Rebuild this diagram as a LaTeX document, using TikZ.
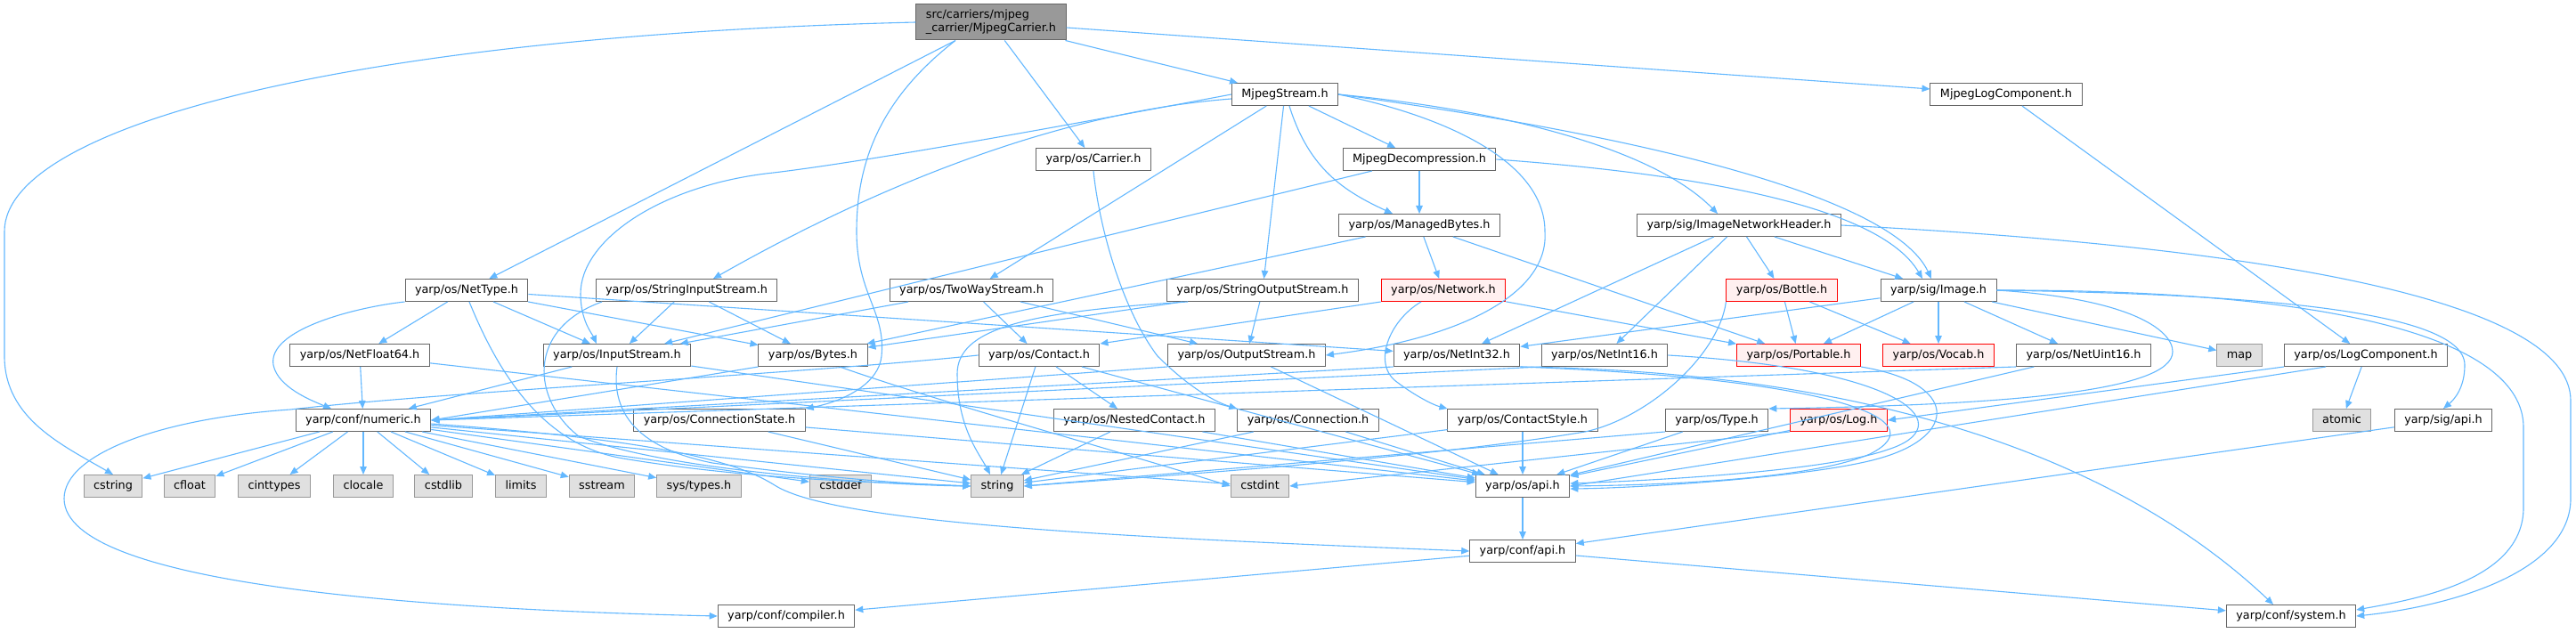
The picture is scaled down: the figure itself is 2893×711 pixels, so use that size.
\documentclass[tikz,border=0pt]{standalone}
\usepackage{fontspec}
\setmainfont{DejaVu Sans}
\usetikzlibrary{arrows.meta}
\definecolor{edgeblue}{HTML}{63B8FF}
\definecolor{boxgray}{HTML}{666666}
\definecolor{sysfill}{HTML}{E0E0E0}
\definecolor{sysline}{HTML}{999999}
\definecolor{rootfill}{HTML}{999999}
\definecolor{redfill}{HTML}{FFF0F0}
\definecolor{redline}{HTML}{FF0000}
\begin{document}
\begin{tikzpicture}[x=1pt,y=-1pt,
  boxbase/.style={draw=boxgray,fill=white,line width=1pt,inner xsep=11pt,font=\fontsize{12.8}{15}\selectfont},
  hfile/.style={boxbase,minimum height=25pt,inner ysep=0pt,text height=9.7pt,text depth=3pt},
  sys/.style={hfile,draw=sysline,fill=sysfill},
  trunc/.style={hfile,draw=redline,fill=redfill},
  rootbox/.style={boxbase,fill=rootfill,align=left,minimum height=40pt},
  incl/.style={draw=edgeblue,line width=1.1pt,-{Triangle[length=9pt,width=7.5pt]}},
]
\path[use as bounding box,fill=white] (0,0) rectangle (2893,711);

\node[rootbox] (root) at (1113,25) {src/carriers/mjpeg\\\_carrier/MjpegCarrier.h};
\node[hfile] (mstream) at (1443,106) {MjpegStream.h};
\node[hfile] (mlog) at (2253,106) {MjpegLogComponent.h};
\node[hfile] (carrier) at (1228,179) {yarp/os/Carrier.h};
\node[hfile] (mdecomp) at (1594,179) {MjpegDecompression.h};
\node[hfile] (mbytes) at (1594,253) {yarp/os/ManagedBytes.h};
\node[hfile] (inh) at (1953,253) {yarp/sig/ImageNetworkHeader.h};
\node[hfile] (nettype) at (524,326) {yarp/os/NetType.h};
\node[hfile] (sistream) at (771,326) {yarp/os/StringInputStream.h};
\node[hfile] (twoway) at (1091,326) {yarp/os/TwoWayStream.h};
\node[hfile] (sostream) at (1418,326) {yarp/os/StringOutputStream.h};
\node[trunc] (network) at (1621,326) {yarp/os/Network.h};
\node[trunc] (bottle) at (2001,326) {yarp/os/Bottle.h};
\node[hfile] (image) at (2177,326) {yarp/sig/Image.h};
\node[hfile] (netfloat) at (404,399) {yarp/os/NetFloat64.h};
\node[hfile] (istream) at (693,399) {yarp/os/InputStream.h};
\node[hfile] (bytes) at (913,399) {yarp/os/Bytes.h};
\node[hfile] (contact) at (1167,399) {yarp/os/Contact.h};
\node[hfile] (ostream) at (1400,399) {yarp/os/OutputStream.h};
\node[hfile] (netint32) at (1636,399) {yarp/os/NetInt32.h};
\node[hfile] (netint16) at (1802,399) {yarp/os/NetInt16.h};
\node[trunc] (portable) at (2020,399) {yarp/os/Portable.h};
\node[trunc] (vocab) at (2177,399) {yarp/os/Vocab.h};
\node[hfile] (netuint16) at (2340,399) {yarp/os/NetUint16.h};
\node[sys] (map) at (2515,399) {map};
\node[hfile] (logcomp) at (2657,399) {yarp/os/LogComponent.h};
\node[hfile] (numeric) at (408,472) {yarp/conf/numeric.h};
\node[hfile] (connstate) at (808,472) {yarp/os/ConnectionState.h};
\node[hfile] (nested) at (1274,472) {yarp/os/NestedContact.h};
\node[hfile] (connection) at (1469,472) {yarp/os/Connection.h};
\node[hfile] (cstyle) at (1710,472) {yarp/os/ContactStyle.h};
\node[hfile] (type) at (1928,472) {yarp/os/Type.h};
\node[trunc] (log) at (2065,472) {yarp/os/Log.h};
\node[sys] (atomic) at (2630,472) {atomic};
\node[hfile] (sigapi) at (2744,472) {yarp/sig/api.h};
\node[sys] (cstring) at (127,546) {cstring};
\node[sys] (cfloat) at (213,546) {cfloat};
\node[sys] (cinttypes) at (308,546) {cinttypes};
\node[sys] (clocale) at (408,546) {clocale};
\node[sys] (cstdlib) at (498,546) {cstdlib};
\node[sys] (limits) at (585,546) {limits};
\node[sys] (sstream) at (676,546) {sstream};
\node[sys] (systypes) at (785,546) {sys/types.h};
\node[sys] (cstddef) at (944,546) {cstddef};
\node[sys] (string) at (1120,546) {string};
\node[sys] (cstdint) at (1415,546) {cstdint};
\node[hfile] (osapi) at (1710,546) {yarp/os/api.h};
\node[hfile] (confapi) at (1710,619) {yarp/conf/api.h};
\node[hfile] (compiler) at (883,692) {yarp/conf/compiler.h};
\node[hfile] (system) at (2573,692) {yarp/conf/system.h};

\draw[incl] (root.west) .. controls (400,40) and (5,140) .. (5,260) -- (5,400) .. controls (5,470) and (70,500) .. (cstring.north);
\draw[incl] (root) -- (nettype);
\draw[incl] ([xshift=-40pt]root.south) .. controls (990,110) and (962,180) .. (962,260) .. controls (962,330) and (995,350) .. (990,400) .. controls (987,430) and (950,450) .. (connstate.north east);
\draw[incl] (root) -- (carrier);
\draw[incl] (root) -- (mstream);
\draw[incl] (root) -- (mlog);

\draw[incl] (mstream.west) .. controls (1150,150) and (950,185) .. (860,195) .. controls (740,210) and (652,270) .. (652,330) .. controls (652,360) and (665,375) .. ([xshift=-23pt]istream.north);
\draw[incl] ([yshift=-5pt]mstream.west) .. controls (1200,125) and (1000,200) .. ([xshift=30pt]sistream.north);
\draw[incl] (mstream) -- (twoway);
\draw[incl] (mstream) -- (sostream);
\draw[incl] (mstream) -- (mdecomp);
\draw[incl] ([xshift=5pt]mstream.south) .. controls (1470,190) and (1510,215) .. ([xshift=-30pt]mbytes.north);
\draw[incl] (mstream.east) .. controls (1620,130) and (1735,180) .. (1735,260) .. controls (1740,330) and (1640,380) .. (ostream.east);
\draw[incl] (mstream.east) .. controls (1700,125) and (1860,170) .. ([xshift=-24pt]inh.north);
\draw[incl] (mstream.east) .. controls (1900,160) and (2130,230) .. ([xshift=-8pt]image.north);
\draw[incl] (mlog) -- (logcomp);
\draw[incl] (carrier.south) .. controls (1235,260) and (1262,350) .. (1300,400) .. controls (1330,430) and (1360,450) .. (connection.north west);

\draw[incl] (mdecomp) -- (istream);
\draw[incl] (mdecomp) -- (mbytes);
\draw[incl] (mdecomp.east) .. controls (1900,195) and (2110,230) .. ([xshift=-18pt]image.north);
\draw[incl] (mbytes) -- (bytes);
\draw[incl] (mbytes) -- (network);
\draw[incl] (mbytes) -- (portable);
\draw[incl] (inh) -- (netint32);
\draw[incl] (inh) -- (netint16);
\draw[incl] (inh) -- (bottle);
\draw[incl] (inh) -- (image);
\draw[incl] (inh.east) .. controls (2500,275) and (2887,330) .. (2887,450) -- (2887,560) .. controls (2887,640) and (2760,680) .. (system.east);

\draw[incl] (nettype.south west) .. controls (400,345) and (300,370) .. (307,410) .. controls (312,435) and (350,450) .. ([xshift=-36pt]numeric.north);
\draw[incl] (nettype) -- (netfloat);
\draw[incl] ([xshift=3pt]nettype.south) .. controls (560,420) and (610,500) .. (700,515) .. controls (850,540) and (1000,542) .. (string.west);
\draw[incl] (nettype) -- (istream);
\draw[incl] (nettype) -- (bytes);
\draw[incl] (nettype) -- (netint32);
\draw[incl] (sistream) -- (istream);
\draw[incl] (sistream) -- (bytes);
\draw[incl] ([xshift=-95pt]sistream.south) .. controls (590,370) and (598,450) .. (650,490) .. controls (750,530) and (1000,545) .. (string.west);
\draw[incl] (twoway) -- (istream);
\draw[incl] (twoway) -- (contact);
\draw[incl] (twoway) -- (ostream);
\draw[incl] (sostream) -- (ostream);
\draw[incl] (sostream) -- (bytes);
\draw[incl] ([xshift=-84pt]sostream.south) .. controls (1150,350) and (1075,370) .. (1075,420) .. controls (1075,480) and (1100,510) .. ([xshift=-8pt]string.north);
\draw[incl] (network.south west) -- (contact.north east);
\draw[incl] ([xshift=-25pt]network.south) .. controls (1560,360) and (1540,410) .. (1570,430) .. controls (1590,445) and (1610,455) .. (cstyle.north west);
\draw[incl] (network) -- (portable);
\draw[incl] (bottle) -- (portable);
\draw[incl] (bottle) -- (vocab);
\draw[incl] (bottle.south west) .. controls (1930,400) and (1850,470) .. (1780,485) .. controls (1600,515) and (1300,535) .. (string.east);

\draw[incl] (image) -- (netint32);
\draw[incl] (image) -- (portable);
\draw[incl] (image) -- (vocab);
\draw[incl] (image) -- (netuint16);
\draw[incl] (image) -- (map);
\draw[incl] (image.east) .. controls (2390,335) and (2440,370) .. (2440,395) .. controls (2440,440) and (2250,455) .. (type.north east);
\draw[incl] (image.east) .. controls (2500,330) and (2768,345) .. (2768,410) .. controls (2768,435) and (2757,448) .. (sigapi.north);
\draw[incl] (image.east) .. controls (2620,325) and (2834,380) .. (2834,480) -- (2834,570) .. controls (2834,650) and (2720,672) .. ([yshift=7pt]system.east);

\draw[incl] (netfloat) -- (numeric);
\draw[incl] (netfloat) -- (osapi);
\draw[incl] (istream) -- (numeric);
\draw[incl] (istream.south) .. controls (688,450) and (700,500) .. (800,520) .. controls (950,540) and (1050,545) .. (string.west);
\draw[incl] (istream) -- (osapi);
\draw[incl] (bytes.south west) -- (numeric.east);
\draw[incl] ([xshift=30pt]bytes.south) .. controls (1050,450) and (1250,505) .. (cstdint.west);
\draw[incl] (contact.west) .. controls (900,420) and (500,440) .. (326,460) .. controls (180,470) and (72,510) .. (72,560) .. controls (72,660) and (500,685) .. (compiler.west);
\draw[incl] (contact) -- (string);
\draw[incl] (contact) -- (nested);
\draw[incl] (contact) -- (osapi);
\draw[incl] (ostream.south west) -- (numeric.east);
\draw[incl] (ostream) -- (osapi);
\draw[incl] (netint32.south west) -- (numeric.east);
\draw[incl] (netint32.south east) .. controls (2050,425) and (2180,470) .. (2100,510) .. controls (2030,540) and (1850,545) .. (osapi.east);
\draw[incl] (netint32.south east) .. controls (1900,415) and (2300,440) .. ([xshift=-20pt]system.north);
\draw[incl] (netint16.south west) -- (numeric.east);
\draw[incl] (netint16.east) .. controls (2150,415) and (2200,480) .. (2120,505) .. controls (2050,530) and (1850,540) .. ([yshift=3pt]osapi.east);
\draw[incl] (portable.south east) .. controls (2200,430) and (2200,490) .. (2110,515) .. controls (2040,535) and (1850,548) .. ([yshift=-3pt]osapi.east);
\draw[incl] (netuint16.south west) -- (numeric.east);
\draw[incl] (netuint16) -- (osapi);
\draw[incl] (logcomp.south west) -- (log.east);
\draw[incl] ([xshift=-45pt]logcomp.south) -- (osapi.east);
\draw[incl] (logcomp) -- (atomic);

\draw[incl] (numeric) -- (cstring);
\draw[incl] (numeric) -- (cfloat);
\draw[incl] (numeric) -- (cinttypes);
\draw[incl] (numeric) -- (clocale);
\draw[incl] (numeric) -- (cstdlib);
\draw[incl] (numeric) -- (limits);
\draw[incl] (numeric) -- (sstream);
\draw[incl] (numeric) -- (systypes);
\draw[incl] (numeric) -- (cstddef);
\draw[incl] (numeric) -- (string);
\draw[incl] (numeric) -- (cstdint);
\draw[incl] ([yshift=-4pt]numeric.east) .. controls (750,495) and (830,520) .. (870,545) .. controls (940,590) and (1300,605) .. (confapi.west);
\draw[incl] (connstate) -- (string);
\draw[incl] (connstate) -- (osapi);
\draw[incl] (nested) -- (string);
\draw[incl] (nested) -- (osapi);
\draw[incl] (connection) -- (string);
\draw[incl] (connection) -- (osapi);
\draw[incl] (cstyle) -- (osapi);
\draw[incl] (cstyle) -- (string);
\draw[incl] (type) -- (osapi);
\draw[incl] (type.south west) -- (string.east);
\draw[incl] (log) -- (osapi);
\draw[incl] (log.south west) -- (cstdint.east);
\draw[incl] (sigapi) -- (confapi);
\draw[incl] (osapi) -- (confapi);
\draw[incl] (confapi) -- (compiler);
\draw[incl] (confapi) -- (system);
\end{tikzpicture}
\end{document}
